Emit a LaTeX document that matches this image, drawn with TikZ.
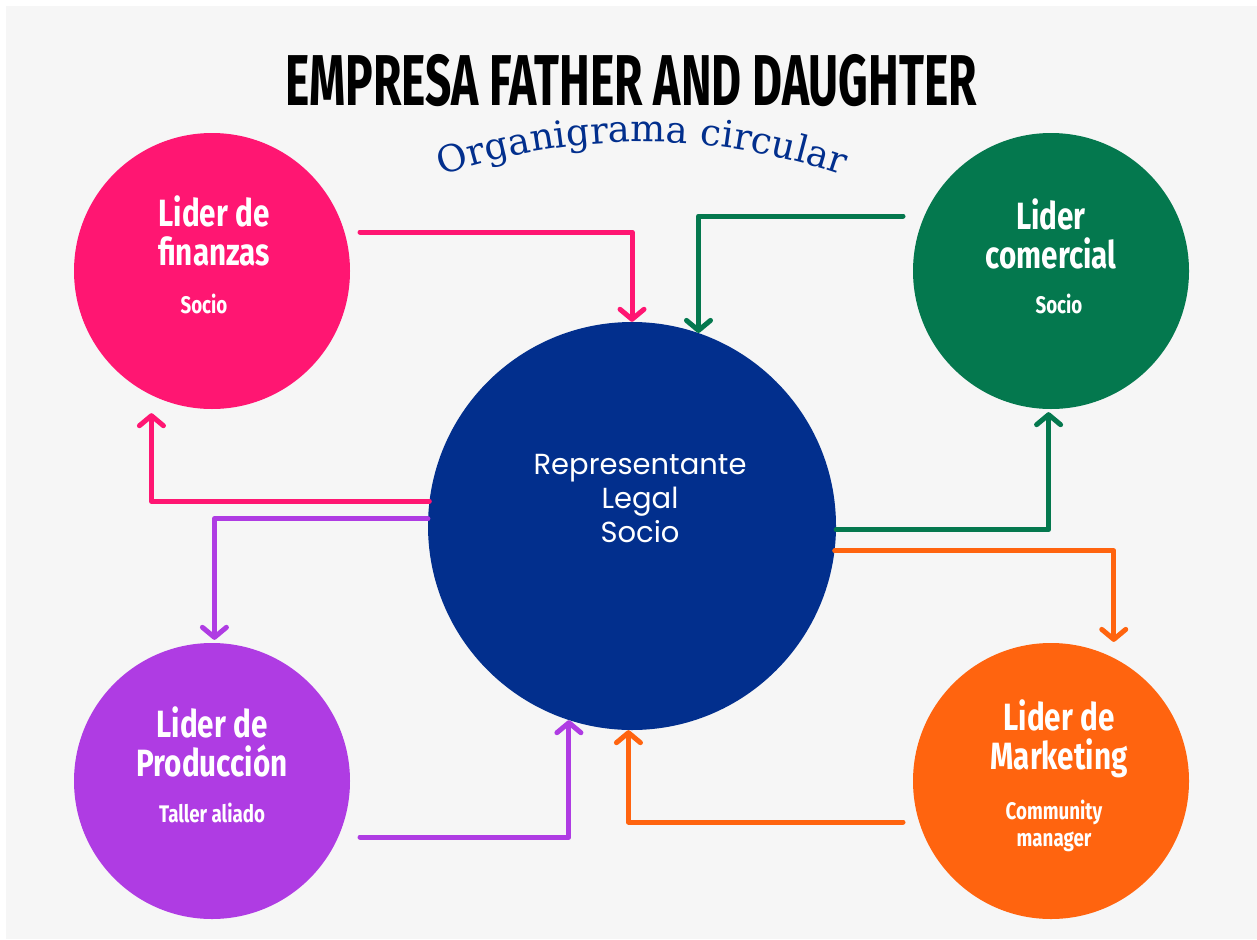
\documentclass[tikz,border=0pt]{standalone}
\usepackage{fontspec}
\usetikzlibrary{arrows.meta,decorations.text}

\newfontfamily\headfont[FakeStretch=0.64]{Fira Sans}
\newfontfamily\circfont[FakeStretch=0.78]{Fira Sans}
\newfontfamily\repfont{Poppins}
\newfontfamily\subfont{DejaVu Serif}

\definecolor{bggray}{HTML}{F6F6F6}
\definecolor{finpink}{HTML}{FF1672}
\definecolor{comgreen}{HTML}{04784E}
\definecolor{repblue}{HTML}{022F8D}
\definecolor{propurple}{HTML}{AF3CE3}
\definecolor{mktorange}{HTML}{FF640F}

\tikzset{
  lider/.style={circle, inner sep=0pt, minimum size=276pt},
  liname/.style={text=white, align=center, inner sep=0pt,
    font=\circfont\bfseries\fontsize{38}{39}\selectfont},
  lirol/.style={text=white, align=center, inner sep=0pt,
    font=\circfont\bfseries\fontsize{24}{27}\selectfont},
  conn/.style={line width=5pt, line cap=round, line join=round,
    -{Straight Barb[length=10pt,width=24pt,round]}},
}

\begin{document}
\begin{tikzpicture}[x=1pt,y=-1pt]
    \useasboundingbox (0,0) rectangle (1257,939);
    \fill[bggray] (6,6) rectangle (1257,939);

    % titulo
    \node[font=\headfont\bfseries\fontsize{72}{72}\selectfont] (title) at (631,81) {EMPRESA FATHER AND DAUGHTER};
    \path[decorate, decoration={text along path, text align=center, text color=repblue,
        text={|\subfont\fontsize{37}{37}\selectfont|Organigrama circular}}]
        (642,760) ++(248:618) arc[start angle=248, end angle=292, radius=618];

    % circulos
    \node[circle, inner sep=0pt, minimum size=408pt, fill=repblue] (rep) at (632,526) {};
    \node[lider, fill=finpink]   (fin) at (212,271) {};
    \node[lider, fill=comgreen]  (com) at (1051,271) {};
    \node[lider, fill=propurple] (pro) at (212,781) {};
    \node[lider, fill=mktorange] (mkt) at (1051,781) {};

    \node[text=white, align=center, font=\repfont\fontsize{29}{34}\selectfont] (reptxt) at (640,499) {Representante\\Legal\\ Socio};

    \node[liname] (finname) at (214,231) {Lider de\\finanzas};
    \node[lirol]  (finrol)  at (204,304) {Socio};
    \node[liname] (comname) at (1051,234) {Lider\\comercial};
    \node[lirol]  (comrol)  at (1059,304) {Socio};
    \node[liname] (proname) at (212,742) {Lider de\\Producción};
    \node[lirol]  (prorol)  at (212,813) {Taller aliado};
    \node[liname] (mktname) at (1059,739) {Lider de\\Marketing};
    \node[lirol]  (mktrol)  at (1054,826) {Community\\manager};

    % flechas
    \coordinate (finout) at (360,232);
    \coordinate (comout) at (903,216);
    \coordinate (proout) at (360,837);
    \coordinate (mktout) at (903,822);

    \draw[conn, finpink] (finout) -| (rep.north);
    \draw[conn, finpink, shorten >=18pt] (rep.173) -| (fin.-116.7);
    \draw[conn, comgreen] (comout) -| (rep.71.7);
    \draw[conn, comgreen, shorten >=3pt] (rep.-1.1) -| (com.-91.7);
    \draw[conn, propurple, shorten >=3pt] (rep.178.9) -| (pro.89.2);
    \draw[conn, propurple] (proout) -| (rep.-108.3);
    \draw[conn, mktorange, shorten >=16pt] (rep.-7.6) -| (mkt.63.3);
    \draw[conn, mktorange] (mktout) -| (rep.-91.1);
\end{tikzpicture}
\end{document}
